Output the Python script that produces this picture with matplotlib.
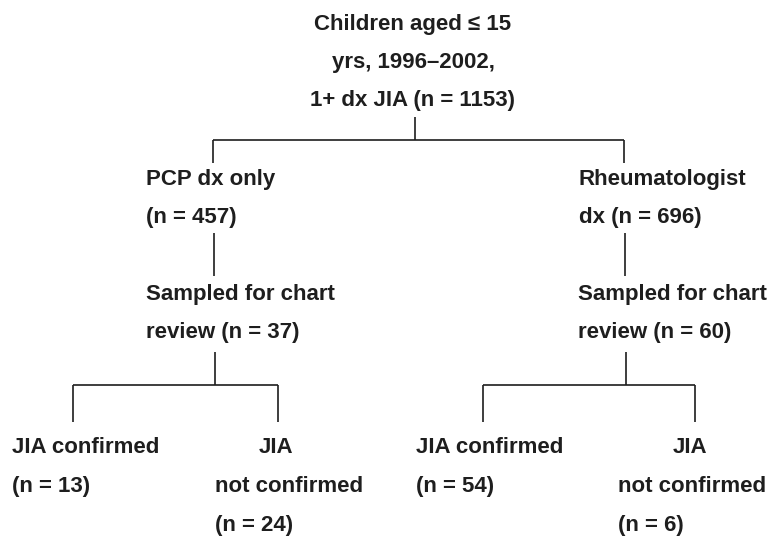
import matplotlib.pyplot as plt

# counts in the flow
n_total = 1153
n_pcp = 457
n_rheum = 696
n_pcp_sampled = 37
n_rheum_sampled = 60
n_pcp_conf, n_pcp_notconf = 13, 24
n_rheum_conf, n_rheum_notconf = 54, 6

INK = '#1e1e1e'
FONT = dict(family='Liberation Sans', weight='bold', fontsize=16, color=INK, va='center')


def txt(ax, x, y, s, ha='left'):
    # small nudge: va='center' counts descenders, the scan's text sits a bit lower
    ax.text(x, y + 2.5, s, ha=ha, **FONT)


def seg(ax, x0, y0, x1, y1):
    ax.plot([x0, x1], [y0, y1], color=INK, lw=1.2, solid_capstyle='butt')


def main():
    fig = plt.figure(figsize=(7.71, 5.38), dpi=100)
    ax = fig.add_axes([0, 0, 1, 1])
    ax.set_xlim(0, 771)
    ax.set_ylim(538, 0)
    ax.axis('off')

    # root
    txt(ax, 413, 22, 'Children aged \u2264 15', ha='center')
    txt(ax, 413, 60, 'yrs, 1996\u20132002,', ha='center')
    txt(ax, 413, 98, f'1+ dx JIA (n = {n_total})', ha='center')
    seg(ax, 415, 117, 415, 140)
    seg(ax, 213, 140, 624, 140)
    seg(ax, 213, 140, 213, 163)
    seg(ax, 624, 140, 624, 163)

    # left branch
    txt(ax, 146, 177, 'PCP dx only')
    txt(ax, 146, 215, f'(n = {n_pcp})')
    seg(ax, 214, 233, 214, 276)
    txt(ax, 146, 292, 'Sampled for chart')
    txt(ax, 146, 330, f'review (n = {n_pcp_sampled})')
    seg(ax, 215, 352, 215, 385)
    seg(ax, 73, 385, 278, 385)
    seg(ax, 73, 385, 73, 422)
    seg(ax, 278, 385, 278, 422)
    txt(ax, 12, 445, 'JIA confirmed')
    txt(ax, 12, 484, f'(n = {n_pcp_conf})')
    txt(ax, 276, 445, 'JIA', ha='center')
    txt(ax, 215, 484, 'not confirmed')
    txt(ax, 215, 523, f'(n = {n_pcp_notconf})')

    # right branch
    txt(ax, 579, 177, 'Rheumatologist')
    txt(ax, 579, 215, f'dx (n = {n_rheum})')
    seg(ax, 625, 233, 625, 276)
    txt(ax, 578, 292, 'Sampled for chart')
    txt(ax, 578, 330, f'review (n = {n_rheum_sampled})')
    seg(ax, 626, 352, 626, 385)
    seg(ax, 483, 385, 695, 385)
    seg(ax, 483, 385, 483, 422)
    seg(ax, 695, 385, 695, 422)
    txt(ax, 416, 445, 'JIA confirmed')
    txt(ax, 416, 484, f'(n = {n_rheum_conf})')
    txt(ax, 690, 445, 'JIA', ha='center')
    txt(ax, 618, 484, 'not confirmed')
    txt(ax, 618, 523, f'(n = {n_rheum_notconf})')

    fig.savefig('out.png', dpi=100)


if __name__ == "__main__":
    main()
